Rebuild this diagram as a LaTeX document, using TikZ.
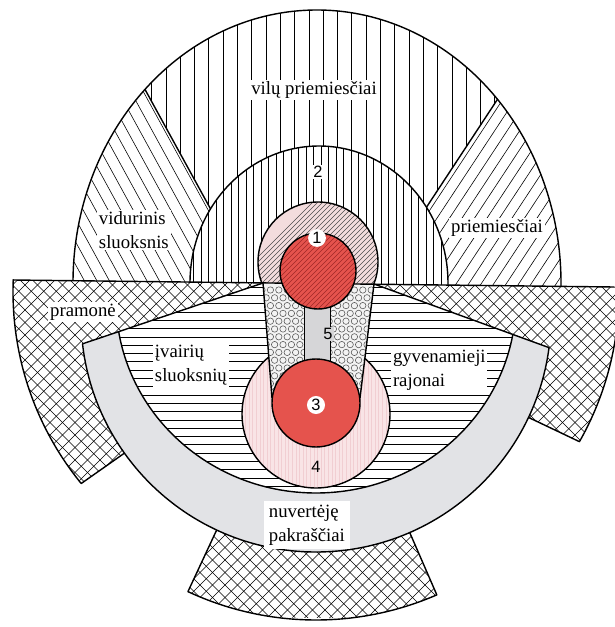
\documentclass[tikz,border=0pt]{standalone}
\usepackage{fontspec}
\setmainfont{Liberation Serif}
\newfontfamily\digitfont{Liberation Sans}
\usepackage{tikz}
\usetikzlibrary{calc}
\definecolor{cityred}{RGB}{229,83,77}
\definecolor{cityredline}{RGB}{160,40,40}
\definecolor{corepink}{RGB}{243,220,221}
\definecolor{ringpink}{RGB}{249,228,230}
\definecolor{ringpinkline}{RGB}{241,206,210}
\definecolor{slumgray}{RGB}{226,227,230}
\definecolor{stripgray}{RGB}{214,214,216}
\definecolor{dotback}{RGB}{243,243,243}
\newcommand\crosslines{\foreach \k in {0,...,110} {\draw[hatchline] ({12.5*\k-700},660) -- ++(700,-700);
 \draw[hatchline] ({12.5*\k-700},-40) -- ++(700,700);}}

\begin{document}
\begin{tikzpicture}[x=.03cm,y=-.03cm,line cap=round,line join=round,
 zoneline/.style={line width=1.2pt},
 hatchline/.style={line width=.5pt},
 zonelabel/.style={font=\fontsize{16}{20.5}\selectfont,fill=white,inner sep=1.5pt,align=left},
 zonenum/.style={font=\digitfont\fontsize{14}{14}\selectfont,inner sep=1pt}]
\useasboundingbox (0,0) rectangle (614,627);
\coordinate (ring) at (316,317);
\coordinate (edge) at (316,292);
% upper rings
\begin{scope}
 \clip ($(317,283)+(178:244 and 273)$) arc[start angle=178,end angle=362,x radius=244,y radius=273] -- cycle;
 \begin{scope}
  \clip (85,-20) -- (576,-20) -- (372,290) -- (255,290) -- cycle;
  \foreach \k in {0,...,36} \draw[hatchline] ({80+14.3*\k},0) -- ++(0,300);
 \end{scope}
 \begin{scope}
  \clip (-20,-20) -- (85,-20) -- (255,290) -- (-20,300) -- cycle;
  \foreach \k in {0,...,40} \draw[hatchline] ({12.5*\k-220},-24) -- ++(207,378);
 \end{scope}
 \begin{scope}
  \clip (640,-20) -- (576,-20) -- (372,290) -- (640,300) -- cycle;
  \foreach \k in {0,...,42} \draw[hatchline] ({350+12.5*\k},-29) -- ++(-248,376);
 \end{scope}
 \draw[zoneline] (85,-20) -- (255,290) (576,-20) -- (372,290);
\end{scope}
\fill[white] ($(319,283)+(178:129 and 137)$) arc[start angle=178,end angle=362,x radius=129,y radius=137] -- cycle;
\begin{scope}
 \clip ($(319,283)+(178:129 and 137)$) arc[start angle=178,end angle=362,x radius=129,y radius=137] -- cycle;
 \foreach \k in {0,...,36} \draw[hatchline,line width=.45pt] ({186+7.5*\k},140) -- ++(0,160);
\end{scope}
\draw[zoneline] ($(319,283)+(178:129 and 137)$) arc[start angle=178,end angle=362,x radius=129,y radius=137];
\draw[zoneline] ($(317,283)+(178:244 and 273)$) arc[start angle=178,end angle=362,x radius=244,y radius=273];
% centre 1
\begin{scope}
 \clip (-20,-20) -- (640,-20) -- (640,287.3) -- (-20,279.6) -- cycle;
 \fill[corepink] (318,262) circle[radius=60];
 \begin{scope}
  \clip (318,262) circle[radius=60];
  \foreach \k in {0,...,46} \draw[gray!60!black,line width=.4pt] ({175+5*\k},340) -- ++(150,-150);
 \end{scope}
 \draw[zoneline] (318,262) circle[radius=60];
\end{scope}
% industry
\begin{scope}
 \clip (edge) circle[radius=303];
 \clip (-20,279.6) -- (263,283) -- (153,433) -- (-20,556) -- cycle;
 \fill[white] (-20,-40) rectangle (640,660);
 \crosslines
\end{scope}
\begin{scope}
 \clip (edge) circle[radius=303];
 \clip (374,284) -- (640,287.3) -- (678,488) -- (528.5,417.4) -- cycle;
 \fill[white] (-20,-40) rectangle (640,660);
 \crosslines
\end{scope}
\begin{scope}
 \clip (ring) circle[radius=303];
 \clip (ring) -- +(66.5:330) -- +(115:330) -- cycle;
 \fill[white] (-20,-40) rectangle (640,660);
 \crosslines
\end{scope}
\draw[zoneline] ($(edge)+(182.3:303)$) arc[start angle=182.3,end angle=140.8,radius=303] -- ($(ring)+(144.6:235)$);
\draw[zoneline] ($(edge)+(-1:303)$) arc[start angle=-1,end angle=29.6,radius=303] -- ($(ring)+(25.3:235)$);
\draw[zoneline] ($(ring)+(66.5:235)$) -- ($(ring)+(66.5:303)$) arc[start angle=66.5,end angle=115,radius=303] -- ($(ring)+(115:235)$);
% residential and slum band
\begin{scope}
 \clip (-20,378.3) -- (263,283) -- (374,284) -- (634,379) -- (640,660) -- (-20,660) -- cycle;
 \fill[white] (316,300) ellipse[x radius=200,y radius=193];
 \begin{scope}
  \clip (316,300) ellipse[x radius=200,y radius=193];
  \foreach \k in {0,...,26} \draw[hatchline] (100,{287+8.3*\k}) -- ++(440,0);
 \end{scope}
 \fill[slumgray,even odd rule] (ring) circle[radius=235] (316,300) ellipse[x radius=200,y radius=193];
 \draw[zoneline] (ring) circle[radius=235] (316,300) ellipse[x radius=200,y radius=193];
\end{scope}
\draw[zoneline] (82.6,343.8) -- (263,283) (374,284) -- (549,347.6);
% ring 4
\fill[ringpink] (316,414) circle[radius=74];
\begin{scope}
 \clip (316,414) circle[radius=74];
 \foreach \k in {0,...,42} \draw[ringpinkline,line width=.8pt] ({242+3.6*\k},330) -- ++(0,170);
\end{scope}
\draw[zoneline] (316,414) circle[radius=74];
% corridor 5
\fill[dotback] (263,283) -- (374,284) -- (360,398) -- (272,398) -- cycle;
\begin{scope}
 \clip (263,283) -- (374,284) -- (360,398) -- (272,398) -- cycle;
 \foreach \r in {0,...,14} \foreach \c in {0,...,14}
  \draw[gray!70!black,line width=.5pt] ({262+8.4*\c+4.2*mod(\r,2)},{290+7.8*\r}) circle[radius=3.2];
\end{scope}
\draw[zoneline] (263,283) -- (272,398) (374,284) -- (360,398);
\fill[stripgray] (304,300) rectangle (330,370);
\draw[hatchline,line width=.8pt] (304,300) -- (304,370) (330,300) -- (330,370);
\draw[zoneline] (13,280) -- (614,287);
% red cores
\filldraw[zoneline,fill=cityred] (316,403) circle[radius=44];
\fill[cityred] (318,271) circle[radius=38];
\begin{scope}
 \clip (318,271) circle[radius=38];
 \foreach \k in {0,...,20} \draw[cityredline,line width=.45pt] ({222+5*\k},320) -- ++(110,-110);
\end{scope}
\draw[zoneline] (318,271) circle[radius=38];
% labels
\node[zonelabel] (villas) at (314,90) {vilų priemiesčiai};
\node[zonelabel,anchor=west] (middle) at (97,230) {vidurinis\\sluoksnis};
\node[zonelabel] (suburbs) at (497,228) {priemiesčiai};
\node[zonelabel] (industry) at (83,312) {pramonė};
\node[zonelabel,anchor=west] (mixed) at (153,365) {įvairių\\sluoksnių};
\node[zonelabel,anchor=west] (housing) at (391,370) {gyvenamieji\\rajonai};
\node[zonelabel,anchor=west,inner xsep=4pt,inner ysep=3pt] (fringe) at (264,525) {nuvertėję\\pakraščiai};
\node[zonenum,fill=white] (n2) at (318,172) {2};
\node[zonenum,fill=white,circle] (n1) at (317,238) {1};
\node[zonenum,fill=white,circle] (n3) at (316,405) {3};
\node[zonenum] (n4) at (316,467) {4};
\node[zonenum,fill=stripgray] (n5) at (328,334) {5};
\end{tikzpicture}
\end{document}
